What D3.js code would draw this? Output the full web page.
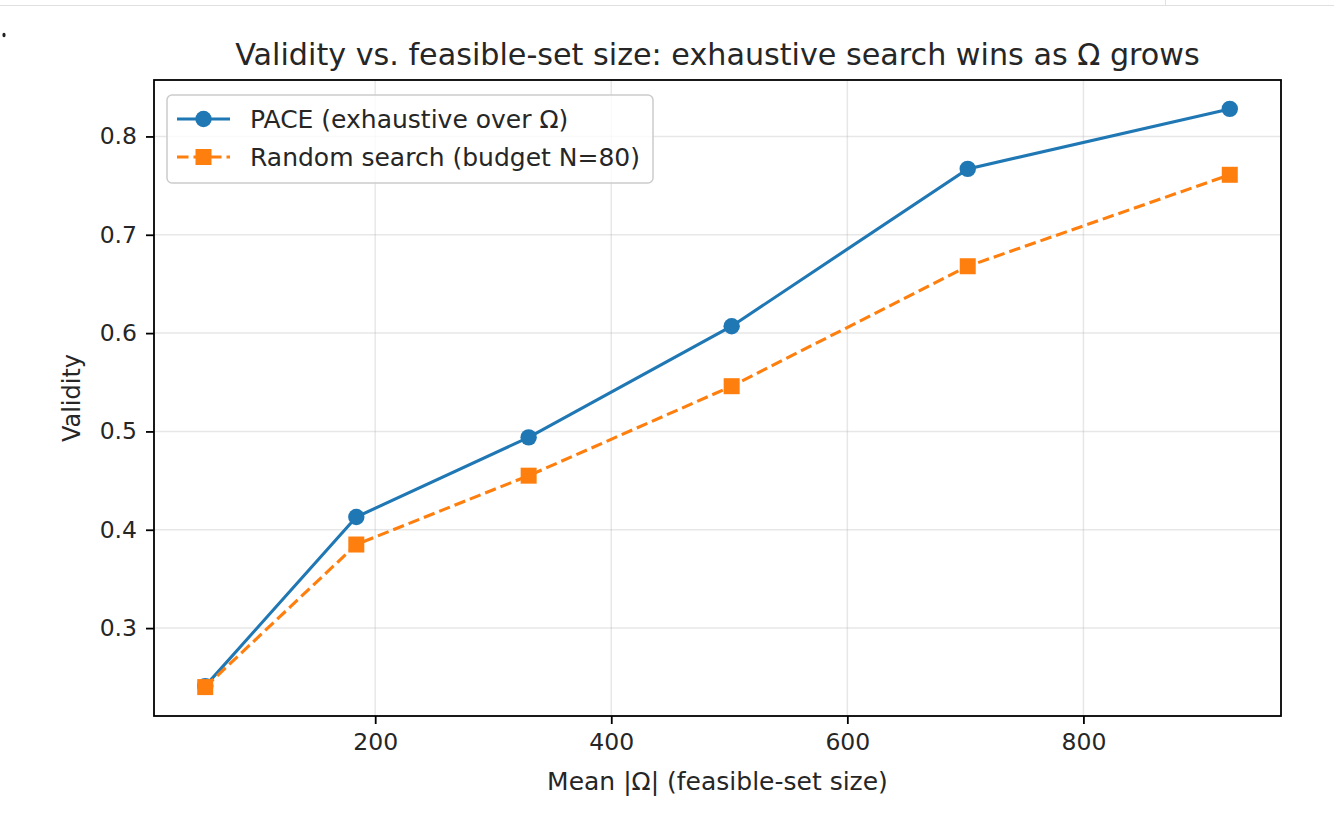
<!DOCTYPE html>
<html>
<head>
<meta charset="utf-8">
<script src="https://cdn.jsdelivr.net/npm/d3@7"></script>
<style>
	body { margin: 0; background: #fff; }
	svg text { font-family: "DejaVu Sans", sans-serif; fill: #262626; }
</style>
</head>
<body>
<div id="chart"></div>
<script>
// data
const omegaSize = [56, 184, 330, 502, 702, 924];
const paceValidity = [0.241, 0.413, 0.494, 0.607, 0.767, 0.828];
const randomValidity = [0.240, 0.385, 0.455, 0.546, 0.668, 0.761];
const xTicks = [200, 400, 600, 800];
const yTicks = [0.3, 0.4, 0.5, 0.6, 0.7, 0.8];
const seriesNames = ["PACE (exhaustive over Ω)", "Random search (budget N=80)"];

// setup
const width = 1334;
const height = 815;
const margin = {top: 80, right: 53, bottom: 99, left: 154};
const plotWidth = width - margin.left - margin.right;
const plotHeight = height - margin.top - margin.bottom;

const BLUE = "#1f77b4";
const ORANGE = "#ff7f0e";
const LW = 3.1;
const DASH = "11.5,5";

const svg = d3.select("#chart").append("svg")
	.attr("width", width)
	.attr("height", height);

// notebook cell bits around the figure
svg.append("line")
	.attr("x1", 0).attr("x2", width).attr("y1", 5.5).attr("y2", 5.5)
	.attr("stroke", "#e0e0e0").attr("stroke-width", 1);
svg.append("line")
	.attr("x1", 1165.5).attr("x2", 1165.5).attr("y1", 0).attr("y2", 5)
	.attr("stroke", "#e0e0e0").attr("stroke-width", 1);
svg.append("ellipse")
	.attr("cx", 4).attr("cy", 35).attr("rx", 1.6).attr("ry", 2.2).attr("fill", "#222");

// scales, with matplotlib style 5% padding
const xExt = d3.extent(omegaSize);
const xPad = (xExt[1] - xExt[0]) * 0.05;
const xScale = d3.scaleLinear()
	.domain([xExt[0] - xPad, xExt[1] + xPad])
	.range([0, plotWidth]);

const yExt = d3.extent(paceValidity.concat(randomValidity));
const yPad = (yExt[1] - yExt[0]) * 0.05;
const yScale = d3.scaleLinear()
	.domain([yExt[0] - yPad, yExt[1] + yPad])
	.range([plotHeight, 0]);

const plot = svg.append("g")
	.attr("transform", `translate(${margin.left}, ${margin.top})`);

// grid
plot.append("g")
	.attr("class", "xGrid")
	.selectAll("line")
	.data(xTicks)
	.join("line")
	.attr("x1", d => xScale(d)).attr("x2", d => xScale(d))
	.attr("y1", 0).attr("y2", plotHeight)
	.attr("stroke", "#b0b0b0").attr("stroke-opacity", 0.3).attr("stroke-width", 1.5);

plot.append("g")
	.attr("class", "yGrid")
	.selectAll("line")
	.data(yTicks)
	.join("line")
	.attr("x1", 0).attr("x2", plotWidth)
	.attr("y1", d => yScale(d)).attr("y2", d => yScale(d))
	.attr("stroke", "#b0b0b0").attr("stroke-opacity", 0.3).attr("stroke-width", 1.5);

// axes
const xAxis = plot.append("g")
	.attr("transform", `translate(0, ${plotHeight})`)
	.call(d3.axisBottom(xScale)
		.tickValues(xTicks)
		.tickFormat(d3.format("d"))
		.tickSize(8)
		.tickPadding(9)
	);

const yAxis = plot.append("g")
	.call(d3.axisLeft(yScale)
		.tickValues(yTicks)
		.tickFormat(d3.format(".1f"))
		.tickSize(8)
		.tickPadding(9)
	);

[xAxis, yAxis].forEach(ax => {
	ax.select(".domain").remove();
	ax.selectAll(".tick line").attr("stroke", "#000").attr("stroke-width", 1.8);
	ax.selectAll(".tick text")
		.attr("fill", "#262626")
		.style("font-size", "23.5px")
		.style("font-family", "DejaVu Sans");
});

// frame
plot.append("rect")
	.attr("x", 0).attr("y", 0)
	.attr("width", plotWidth).attr("height", plotHeight)
	.attr("fill", "none")
	.attr("stroke", "#000")
	.attr("stroke-width", 1.8);

// lines
const seriesData = [
	{name: seriesNames[0], values: paceValidity, color: BLUE, dash: null, marker: "circle"},
	{name: seriesNames[1], values: randomValidity, color: ORANGE, dash: DASH, marker: "square"}
];

const line = d3.line()
	.x((d, i) => xScale(omegaSize[i]))
	.y(d => yScale(d));

seriesData.forEach(s => {
	plot.append("path")
		.datum(s.values)
		.attr("class", "line")
		.attr("fill", "none")
		.attr("stroke", s.color)
		.attr("stroke-width", LW)
		.attr("stroke-dasharray", s.dash)
		.attr("d", line);

	if (s.marker === "circle") {
		plot.selectAll(null)
			.data(s.values)
			.join("circle")
			.attr("cx", (d, i) => xScale(omegaSize[i]))
			.attr("cy", d => yScale(d))
			.attr("r", 8.2)
			.attr("fill", s.color);
	} else {
		plot.selectAll(null)
			.data(s.values)
			.join("rect")
			.attr("x", (d, i) => xScale(omegaSize[i]) - 8)
			.attr("y", d => yScale(d) - 8)
			.attr("width", 16).attr("height", 16)
			.attr("fill", s.color);
	}
});

// legend
const legend = svg.append("g")
	.attr("transform", "translate(167, 95)");

legend.append("rect")
	.attr("width", 486).attr("height", 88)
	.attr("rx", 5).attr("ry", 5)
	.attr("fill", "#fff").attr("fill-opacity", 0.8)
	.attr("stroke", "#cccccc").attr("stroke-width", 1.5);

seriesData.forEach((s, i) => {
	const row = legend.append("g")
		.attr("transform", `translate(0, ${24 + i * 38})`);
	row.append("line")
		.attr("x1", 10).attr("x2", 63)
		.attr("stroke", s.color).attr("stroke-width", LW)
		.attr("stroke-dasharray", s.dash);
	if (s.marker === "circle") {
		row.append("circle").attr("cx", 36.5).attr("r", 8.2).attr("fill", s.color);
	} else {
		row.append("rect").attr("x", 28.5).attr("y", -8)
			.attr("width", 16).attr("height", 16).attr("fill", s.color);
	}
	row.append("text")
		.attr("x", 83).attr("dy", "0.35em")
		.style("font-size", "25px")
		.text(s.name);
});

// title and axis labels
svg.append("text")
	.attr("x", margin.left + plotWidth / 2)
	.attr("y", 65)
	.attr("text-anchor", "middle")
	.style("font-size", "30.2px")
	.text("Validity vs. feasible-set size: exhaustive search wins as Ω grows");

svg.append("text")
	.attr("x", margin.left + plotWidth / 2)
	.attr("y", 790)
	.attr("text-anchor", "middle")
	.style("font-size", "25px")
	.text("Mean |Ω| (feasible-set size)");

svg.append("text")
	.attr("transform", `translate(80, ${margin.top + plotHeight / 2}) rotate(-90)`)
	.attr("text-anchor", "middle")
	.style("font-size", "24px")
	.text("Validity");
</script>
</body>
</html>
